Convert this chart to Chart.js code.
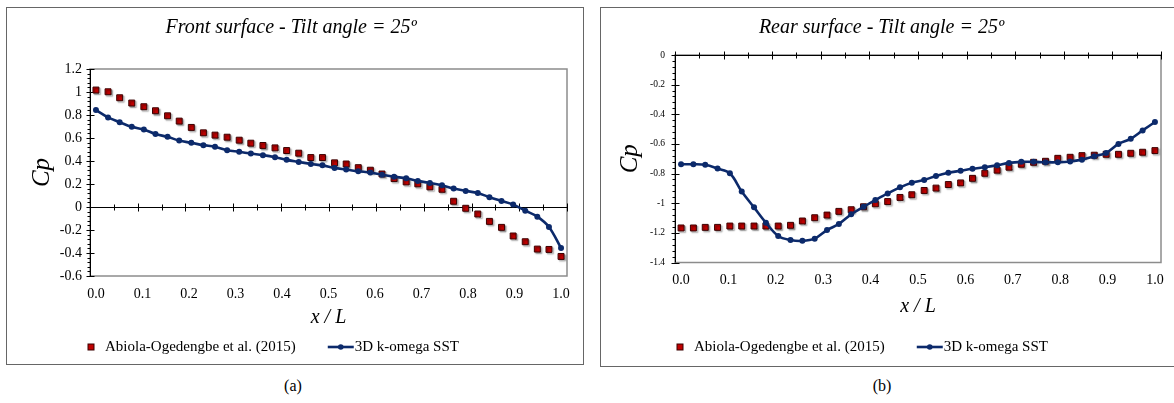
<!DOCTYPE html>
<html>
<head>
<meta charset="utf-8">
<script src="https://cdn.jsdelivr.net/npm/chart.js@4.4.1/dist/chart.umd.min.js"></script>
<style>
  html, body { margin: 0; padding: 0; background: #fff; }
  body { width: 1174px; height: 403px; position: relative; overflow: hidden;
         font-family: "Liberation Serif", "Times New Roman", serif; color: #000; }
  .panel { position: absolute; border: 1px solid #666; box-sizing: border-box; background: #fff; }
  canvas { position: absolute; }
  .cap { position: absolute; top: 376px; width: 60px; text-align: center; font-size: 16px; line-height: 20px; }
</style>
</head>
<body>
<div class="panel" style="left:6px; top:7px; width:578px; height:358px;"></div>
<div class="panel" style="left:600px; top:7px; width:590px; height:360px;"></div>
<canvas id="front" width="576" height="356" style="left:7px; top:8px;"></canvas>
<canvas id="rear" width="574" height="358" style="left:601px; top:8px;"></canvas>
<div class="cap" style="left:263px;">(a)</div>
<div class="cap" style="left:852px;">(b)</div>

<script>
// Chordwise positions of the pressure taps (x / L)
const xPos = [0.000, 0.026, 0.051, 0.077, 0.103, 0.128, 0.154, 0.179, 0.205, 0.231,
              0.256, 0.282, 0.308, 0.333, 0.359, 0.385, 0.410, 0.436, 0.462, 0.487,
              0.513, 0.538, 0.564, 0.590, 0.615, 0.641, 0.667, 0.692, 0.718, 0.744,
              0.769, 0.795, 0.821, 0.846, 0.872, 0.897, 0.923, 0.949, 0.974, 1.000];

const seriesNames = ['Abiola-Ogedengbe et al. (2015)', '3D k-omega SST'];

// Front surface, Cp
const frontExp = [1.017, 1.002, 0.950, 0.904, 0.872, 0.837, 0.793, 0.747, 0.692, 0.645,
                  0.625, 0.607, 0.581, 0.555, 0.535, 0.514, 0.491, 0.468, 0.430, 0.430,
                  0.384, 0.374, 0.342, 0.320, 0.287, 0.247, 0.218, 0.201, 0.175, 0.154,
                  0.050, -0.011, -0.061, -0.125, -0.177, -0.252, -0.302, -0.366, -0.369, -0.430];
const frontSst = [0.843, 0.779, 0.738, 0.697, 0.674, 0.634, 0.610, 0.578, 0.558, 0.538,
                  0.523, 0.494, 0.480, 0.465, 0.451, 0.433, 0.410, 0.392, 0.374, 0.362,
                  0.340, 0.326, 0.311, 0.300, 0.280, 0.263, 0.250, 0.227, 0.209, 0.189,
                  0.160, 0.140, 0.122, 0.085, 0.053, 0.021, -0.032, -0.084, -0.174, -0.357];

// Rear surface, Cp
const rearExp = [-1.167, -1.167, -1.163, -1.163, -1.154, -1.154, -1.154, -1.154, -1.154, -1.149,
                 -1.120, -1.098, -1.080, -1.055, -1.044, -1.024, -1.004, -0.989, -0.961, -0.943,
                 -0.914, -0.898, -0.874, -0.863, -0.832, -0.798, -0.777, -0.757, -0.737, -0.724,
                 -0.717, -0.697, -0.690, -0.679, -0.676, -0.670, -0.670, -0.663, -0.656, -0.645];
const rearSst = [-0.737, -0.737, -0.741, -0.766, -0.798, -0.921, -1.028, -1.131, -1.221, -1.248,
                 -1.254, -1.239, -1.181, -1.140, -1.075, -1.024, -0.979, -0.934, -0.893, -0.862,
                 -0.843, -0.816, -0.795, -0.781, -0.768, -0.757, -0.744, -0.728, -0.721, -0.721,
                 -0.724, -0.724, -0.719, -0.706, -0.683, -0.661, -0.600, -0.565, -0.509, -0.452];

// Axis ticks
const xTickVals = [0, 0.1, 0.2, 0.3, 0.4, 0.5, 0.6, 0.7, 0.8, 0.9, 1.0];
const xTickLabels = ['0.0', '0.1', '0.2', '0.3', '0.4', '0.5', '0.6', '0.7', '0.8', '0.9', '1.0'];
const frontYTickVals = [-0.6, -0.4, -0.2, 0, 0.2, 0.4, 0.6, 0.8, 1, 1.2];
const frontYTickLabels = ['-0.6', '-0.4', '-0.2', '0', '0.2', '0.4', '0.6', '0.8', '1', '1.2'];
const rearYTickVals = [-1.4, -1.2, -1, -0.8, -0.6, -0.4, -0.2, 0];
const rearYTickLabels = ['-1.4', '-1.2', '-1', '-0.8', '-0.6', '-0.4', '-0.2', '0'];

const SERIF = '"Liberation Serif", "Times New Roman", serif';
const RED = '#c00000';
const RED_EDGE = '#3b0000';
const NAVY = '#0c2a6b';

// Plot frame plus Excel-style axes with crossing tick marks
const excelAxes = {
  id: 'excelAxes',
  beforeDatasetsDraw(chart, args, opts) {
    const { ctx, chartArea: a, scales: { x, y } } = chart;
    const seg = (x1, y1, x2, y2) => { ctx.beginPath(); ctx.moveTo(x1, y1); ctx.lineTo(x2, y2); ctx.stroke(); };
    ctx.save();
    ctx.strokeStyle = '#8c8c8c';
    ctx.lineWidth = 1.5;
    ctx.strokeRect(a.left, a.top, a.right - a.left, a.bottom - a.top);

    ctx.strokeStyle = '#000';
    ctx.lineWidth = 1;
    const ax = Math.round(a.left) + 0.5;
    seg(ax, a.top, ax, a.bottom);
    const nMinor = Math.round((y.max - y.min) / opts.yMinor);
    const perMajor = Math.round(opts.yMajor / opts.yMinor);
    for (let k = 0; k <= nMinor; k++) {
      const py = Math.round(y.getPixelForValue(y.min + k * opts.yMinor)) + 0.5;
      if (k % perMajor === 0) seg(ax - 4, py, ax + 4, py);
      else seg(ax - 3, py, ax, py);
    }

    const cy = Math.round(y.getPixelForValue(opts.crossAt)) + 0.5;
    seg(a.left, cy, a.right, cy);
    const bounds = [x.min];
    for (let i = 1; i < xPos.length; i++) bounds.push((xPos[i - 1] + xPos[i]) / 2);
    bounds.push(x.max);
    for (let j = 0; j < bounds.length; j += 2) {
      const px = Math.round(x.getPixelForValue(bounds[j])) + 0.5;
      const len = (j % 4 === 0) ? 4 : 3;
      seg(px, cy - len, px, cy + len);
    }
    ctx.restore();
  }
};

// Soft drop shadow under the measured-data markers
const markerShadow = {
  id: 'markerShadow',
  beforeDatasetDraw(chart, args) {
    if (chart.data.datasets[args.index].markerShadow) {
      const c = chart.ctx;
      c.save();
      c.shadowColor = 'rgba(0,0,0,0.4)';
      c.shadowOffsetX = 1.5;
      c.shadowOffsetY = 1.5;
      c.shadowBlur = 1.5;
    }
  },
  afterDatasetDraw(chart, args) {
    if (chart.data.datasets[args.index].markerShadow) chart.ctx.restore();
  }
};

// Legend row under the axis title: square key, then line-with-dot key
const seriesLegend = {
  id: 'seriesLegend',
  afterDraw(chart, args, o) {
    const ctx = chart.ctx;
    const ds = chart.data.datasets;
    ctx.save();
    ctx.font = o.size + 'px ' + SERIF;
    ctx.textBaseline = 'middle';
    ctx.textAlign = 'left';

    const x0 = o.x, y0 = o.y;
    ctx.fillStyle = RED; ctx.strokeStyle = RED_EDGE; ctx.lineWidth = 1;
    ctx.fillRect(x0 - 3, y0 - 3, 6, 6);
    ctx.strokeRect(x0 - 3, y0 - 3, 6, 6);
    ctx.fillStyle = '#000';
    ctx.fillText(ds[0].label, x0 + o.textGap, y0);
    const w1 = ctx.measureText(ds[0].label).width;

    const lx = x0 + o.textGap + w1 + o.itemGap;
    ctx.strokeStyle = NAVY; ctx.lineWidth = 2.6;
    ctx.beginPath(); ctx.moveTo(lx, y0); ctx.lineTo(lx + o.lineLen, y0); ctx.stroke();
    ctx.fillStyle = NAVY;
    ctx.beginPath(); ctx.arc(lx + o.lineLen / 2, y0, 2.8, 0, Math.PI * 2); ctx.fill();
    ctx.fillStyle = '#000';
    ctx.fillText(ds[1].label, lx + o.lineLen + 1, y0);
    ctx.restore();
  }
};

function buildChart(id, o) {
  const pts = arr => xPos.map((x, i) => ({ x, y: arr[i] }));
  return new Chart(document.getElementById(id), {
    type: 'scatter',
    data: {
      datasets: [
        {
          label: seriesNames[0], data: pts(o.exp), showLine: false, order: 2, markerShadow: true,
          pointStyle: 'rect', pointRadius: 4.2, pointHoverRadius: 4.2,
          pointBackgroundColor: RED, pointBorderColor: RED_EDGE, pointBorderWidth: 1
        },
        {
          label: seriesNames[1], data: pts(o.sst), showLine: true, order: 1,
          borderColor: NAVY, borderWidth: 2.6, tension: 0.35,
          pointStyle: 'circle', pointRadius: 3, pointHoverRadius: 3,
          pointBackgroundColor: NAVY, pointBorderWidth: 0
        }
      ]
    },
    options: {
      responsive: false, animation: false, devicePixelRatio: 1,
      events: [],
      layout: { padding: { left: o.padL, right: o.padR, top: 0, bottom: o.padB } },
      plugins: {
        title: {
          display: true, text: o.title, color: '#000',
          font: { family: SERIF, size: 20, style: 'italic', weight: 'normal' },
          padding: { top: o.titleTop, bottom: o.titleBottom }
        },
        legend: { display: false },
        tooltip: { enabled: false },
        excelAxes: { crossAt: 0, yMajor: 0.2, yMinor: 0.04 },
        seriesLegend: { x: o.legendX, y: o.legendY, size: 15, textGap: 14, itemGap: 32, lineLen: 26 }
      },
      scales: {
        x: {
          type: 'linear', min: -0.0128, max: 1.0128,
          grid: { display: false, drawTicks: false }, border: { display: false },
          afterBuildTicks: s => { s.ticks = xTickVals.map(v => ({ value: v })); },
          ticks: {
            callback: (v, i) => xTickLabels[i], color: '#000', padding: o.xTickPad,
            font: { family: SERIF, size: 14 }, maxRotation: 0, autoSkip: false
          },
          title: {
            display: true, text: 'x / L', color: '#000',
            font: { family: SERIF, size: 20, style: 'italic' },
            padding: { top: 0, bottom: o.xTitleBottom }
          },
          afterFit: s => { s.height = o.xHeight; }
        },
        y: {
          type: 'linear', min: o.yMin, max: o.yMax,
          grid: { display: false, drawTicks: false }, border: { display: false },
          afterBuildTicks: s => { s.ticks = o.yTicks.map(v => ({ value: v })); },
          ticks: {
            callback: (v, i) => o.yLabels[i], color: '#000', padding: o.yTickPad,
            font: { family: SERIF, size: o.yTickSize }, autoSkip: false
          },
          title: {
            display: true, text: 'Cp', color: '#000',
            font: { family: SERIF, size: 25, style: 'italic' },
            padding: { top: o.yTitleTop, bottom: 0 }
          },
          afterFit: s => { s.width = o.yWidth; }
        }
      }
    },
    plugins: [excelAxes, markerShadow, seriesLegend]
  });
}

function drawAll() {
  buildChart('front', {
    title: 'Front surface - Tilt angle = 25º',
    exp: frontExp, sst: frontSst,
    yMin: -0.6, yMax: 1.2, yTicks: frontYTickVals, yLabels: frontYTickLabels,
    padL: 8, padR: 16, padB: 28, yWidth: 75, xHeight: 60,
    titleTop: 8, titleBottom: 29,
    xTickPad: 10, xTitleBottom: 6,
    yTickPad: 8, yTickSize: 14, yTitleTop: 12,
    legendX: 84, legendY: 339
  });
  buildChart('rear', {
    title: 'Rear surface - Tilt angle = 25º',
    exp: rearExp, sst: rearSst,
    yMin: -1.4, yMax: 0, yTicks: rearYTickVals, yLabels: rearYTickLabels,
    padL: 1, padR: 14, padB: 43.5, yWidth: 73, xHeight: 60,
    titleTop: 8, titleBottom: 15,
    xTickPad: 9, xTitleBottom: 3.5,
    yTickPad: 10, yTickSize: 9.5, yTitleTop: 13,
    legendX: 79, legendY: 339
  });
}

Promise.all([
  document.fonts.load('19px "Liberation Serif"'),
  document.fonts.load('italic 19px "Liberation Serif"')
]).then(drawAll, drawAll);
</script>
</body>
</html>
